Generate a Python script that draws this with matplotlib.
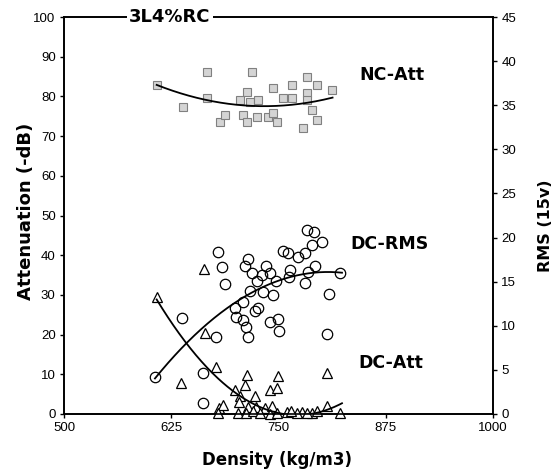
import numpy as np
import matplotlib
matplotlib.use("Agg")
import matplotlib.pyplot as plt

# ---- data ----
# DC-RMS (circles, right axis)
rms_density = [606, 637.5, 662, 662, 677, 679.5, 684, 687.6, 714.5, 711, 719, 735.5, 740, 731,
               725, 747, 755, 761, 772.7, 781, 789, 800.7, 783, 791, 763, 762, 792.5, 784,
               781, 809, 821.7, 717, 732, 743.6, 708.6, 726, 722.6, 699, 700.5, 708.6, 712,
               714.5, 740, 749, 750.6, 806.5]
rms_values = [4.2, 10.9, 4.6, 1.2, 8.7, 18.4, 16.7, 14.7, 17.6, 16.8, 16.0, 16.8, 16.0, 15.8,
              15.1, 15.1, 18.5, 18.2, 17.8, 18.2, 19.2, 19.5, 20.9, 20.6, 16.3, 15.5, 16.8, 16.1,
              14.8, 13.6, 16.0, 13.9, 13.8, 13.5, 12.7, 12.0, 11.7, 12.0, 11.0, 10.7, 9.9,
              8.7, 10.4, 10.8, 9.4, 9.1]

# DC-Att (triangles, left axis)
dcatt_density = [608, 663, 664, 677, 636, 713, 749, 806, 711, 740, 748, 699, 723, 705, 704,
                 714, 724, 734, 743, 807, 681, 685, 760, 777, 789, 679, 703, 712, 720, 728,
                 740, 748, 771, 783, 822, 765, 795]
dcatt_values = [29.5, 36.5, 20.4, 11.8, 7.8, 9.8, 9.6, 10.3, 7.3, 6.0, 6.5, 6.0, 4.5, 4.5, 3.0,
                1.8, 1.8, 1.5, 2.0, 2.0, 1.5, 2.2, 0.5, 0.5, 0.3, 0.2, 0.3, 0.2, 0.8, 0.3,
                0.0, 0.2, 0.3, 0.3, 0.2, 0.8, 0.8]

# NC-Att (squares, left axis)
nc_density = [608.4, 638.7, 666.7, 666.7, 681.8, 687.6, 719.1, 713.3, 705.1, 716.8, 726.1,
              708.6, 713.3, 724.9, 737.8, 743.6, 748.3, 743.6, 765.7, 755.2, 765.7, 783.2,
              794.9, 783.2, 812.4, 789.0, 794.9, 778.6, 783.2]
nc_values = [82.9, 77.3, 86.1, 79.6, 73.6, 75.3, 86.1, 81.1, 79.1, 78.6, 79.1,
             75.3, 73.6, 74.8, 74.8, 75.8, 73.6, 82.1, 82.9, 79.6, 79.6, 84.9,
             82.9, 80.9, 81.6, 76.6, 74.1, 72.0, 79.1]

# trend lines
nc_trend_x = [608, 720, 813]
nc_trend_y = [82.9, 77.6, 79.7]
rms_trend_x = [606, 666, 717, 795, 824]
rms_trend_y = [4.2, 9.7, 13.9, 16.3, 15.8]
att_trend_x = [608, 642, 694, 752, 824]
att_trend_y = [29.5, 17.1, 6.0, 1.0, 2.4]

x_ticks = [500, 625, 750, 875, 1000]
left_ticks = list(range(0, 101, 10))
right_ticks = list(range(0, 46, 5))

W, H = 555, 474
fig = plt.figure(figsize=(W / 100, H / 100), dpi=100)
L, R, T, B = 64, 493, 17, 414
ax = fig.add_axes([L / W, 1 - B / H, (R - L) / W, (B - T) / H])
ax2 = ax.twinx()

bold = dict(family="DejaVu Sans", weight="bold")

ax.set_xlim(500, 1000)
ax.set_ylim(0, 100)
ax2.set_ylim(0, 45)
ax.set_xticks(x_ticks)
ax.set_yticks(left_ticks)
ax2.set_yticks(right_ticks)
for a in (ax, ax2):
    a.tick_params(direction="out", length=3, width=1, colors="black", labelsize=9.5, pad=3)
    for lab in a.get_xticklabels() + a.get_yticklabels():
        lab.set_family("Liberation Sans")
    for s in a.spines.values():
        s.set_linewidth(1.2)

# NC-Att squares
ax.plot(nc_density, nc_values, linestyle="none", marker="s", markersize=6,
        markerfacecolor="#d4d4d4", markeredgecolor="#808080", markeredgewidth=0.8, zorder=3)
# DC-Att triangles
ax.plot(dcatt_density, dcatt_values, linestyle="none", marker="^", markersize=7.5,
        markerfacecolor="white", markeredgecolor="black", markeredgewidth=0.9, zorder=3,
        clip_on=False)
# DC-RMS circles
ax2.plot(rms_density, rms_values, linestyle="none", marker="o", markersize=7.5,
         markerfacecolor="none", markeredgecolor="black", markeredgewidth=0.9, zorder=3)

def trend(axis, xs, ys):
    c = np.polyfit(xs, ys, 2)
    xx = np.linspace(min(xs), max(xs), 200)
    axis.plot(xx, np.polyval(c, xx), color="black", linewidth=1.3, zorder=4)

trend(ax, nc_trend_x, nc_trend_y)
trend(ax, att_trend_x, att_trend_y)
trend(ax2, rms_trend_x, rms_trend_y)

def px(x, y):
    return x / W, 1 - y / H

fig.text(*px(170, 17), "3L4%RC", ha="center", va="center", fontsize=13, zorder=10,
         bbox=dict(facecolor="white", edgecolor="none", pad=2), **bold)
fig.text(*px(392, 75), "NC-Att", ha="center", va="center", fontsize=12.5, **bold)
fig.text(*px(390, 244), "DC-RMS", ha="center", va="center", fontsize=12.5, **bold)
fig.text(*px(391, 363), "DC-Att", ha="center", va="center", fontsize=12.5, **bold)

fig.text(*px(26, 211), "Attenuation (-dB)", rotation=90, ha="center", va="center",
         fontsize=13, **bold)
fig.text(*px(546, 226), "RMS (15v)", rotation=90, ha="center", va="center",
         fontsize=11.5, **bold)
fig.text(*px(277.5, 460), "Density (kg/m3)", ha="center", va="center", fontsize=12, **bold)

fig.savefig("out.png", dpi=100)
